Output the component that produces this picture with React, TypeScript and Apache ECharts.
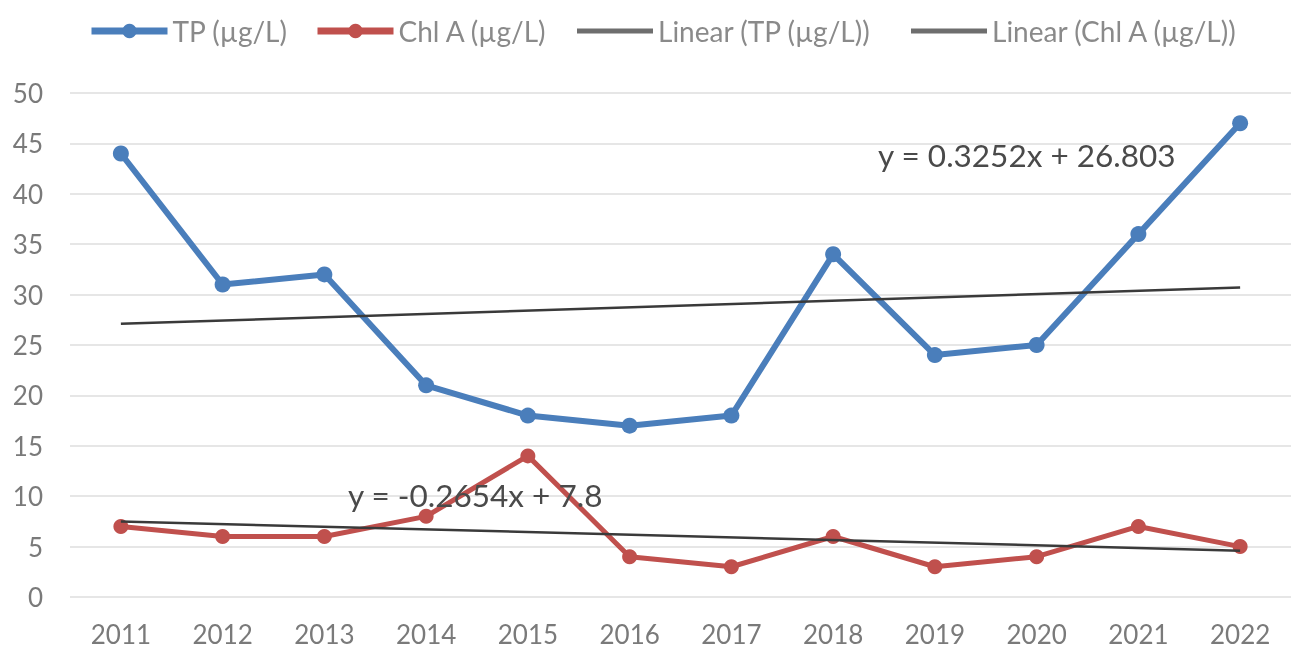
import React, { useEffect, useRef } from "react";
import * as echarts from "echarts";

const years = ["2011", "2012", "2013", "2014", "2015", "2016", "2017", "2018", "2019", "2020", "2021", "2022"];
const tp = [44, 31, 32, 21, 18, 17, 18, 34, 24, 25, 36, 47];
const chlA = [7, 6, 6, 8, 14, 4, 3, 6, 3, 4, 7, 5];
const tpTrend = [27.1, null, null, null, null, null, null, null, null, null, null, 30.7];
const chlTrend = [7.5, null, null, null, null, null, null, null, null, null, null, 4.6];
const tpEquation = "y = 0.3252x + 26.803";
const chlEquation = "y = -0.2654x + 7.8";
const seriesNames = ["TP (µg/L)", "Chl A (µg/L)", "Linear (TP (µg/L))", "Linear (Chl A (µg/L))"];

const FONT = "Lato";
const TREND_ICON = "path://M0,0L60,0L60,4L0,4Z";

export default function App() {
  const ref = useRef<HTMLDivElement>(null);
  useEffect(() => {
    const chart = echarts.init(ref.current!, null, { renderer: "svg" });
    const legendLefts = [83, 309, 572, 906];
    const legends = seriesNames.map((name, i) => ({
      top: 12,
      left: legendLefts[i],
      itemWidth: 76,
      itemHeight: 18,
      itemGap: 0,
      textStyle: { fontSize: 28, color: "#8a8a8a", fontFamily: FONT },
      lineStyle: i < 2 ? { width: 7 } : undefined,
      data: [i < 2 ? { name } : { name, icon: TREND_ICON, itemStyle: { color: "#6e6e6e" } }],
    }));
    chart.setOption({
      animation: false,
      textStyle: { fontFamily: FONT },
      legend: legends,
      grid: { left: 70, right: 0, top: 93, bottom: 57, containLabel: false },
      xAxis: {
        type: "category",
        data: years,
        boundaryGap: true,
        axisLine: { show: false },
        axisTick: { show: false },
        axisLabel: { fontSize: 26, color: "#7a7a7a", margin: 24, fontFamily: FONT },
      },
      yAxis: {
        type: "value",
        min: 0,
        max: 50,
        interval: 5,
        axisLine: { show: false },
        axisTick: { show: false },
        splitLine: { lineStyle: { color: "#e6e6e6", width: 2 } },
        axisLabel: { fontSize: 26, color: "#7a7a7a", margin: 27, fontFamily: FONT },
      },
      series: [
        {
          name: seriesNames[0],
          type: "line",
          data: tp,
          symbol: "circle",
          symbolSize: 16,
          lineStyle: { color: "#4a7ebb", width: 6 },
          itemStyle: { color: "#4a7ebb" },
          z: 3,
        },
        {
          name: seriesNames[1],
          type: "line",
          data: chlA,
          symbol: "circle",
          symbolSize: 15,
          lineStyle: { color: "#c0504d", width: 5 },
          itemStyle: { color: "#c0504d" },
          z: 3,
        },
        {
          name: seriesNames[2],
          type: "line",
          data: tpTrend,
          connectNulls: true,
          symbol: "none",
          lineStyle: { color: "#3a3a3a", width: 2.5 },
          itemStyle: { color: "#3a3a3a" },
          z: 4,
        },
        {
          name: seriesNames[3],
          type: "line",
          data: chlTrend,
          connectNulls: true,
          symbol: "none",
          lineStyle: { color: "#3a3a3a", width: 2.5 },
          itemStyle: { color: "#3a3a3a" },
          z: 4,
        },
      ],
      graphic: [
        {
          type: "text",
          left: 878,
          top: 139,
          style: { text: tpEquation, fontSize: 31.5, fill: "#4a4a4a", fontFamily: FONT },
          z: 10,
        },
        {
          type: "text",
          left: 348,
          top: 479,
          style: { text: chlEquation, fontSize: 31.5, fill: "#4a4a4a", fontFamily: FONT },
          z: 10,
        },
      ],
    });
    return () => chart.dispose();
  }, []);
  return <div ref={ref} style={{ position: "fixed", left: 0, top: 0, width: 1291, height: 654 }} />;
}
